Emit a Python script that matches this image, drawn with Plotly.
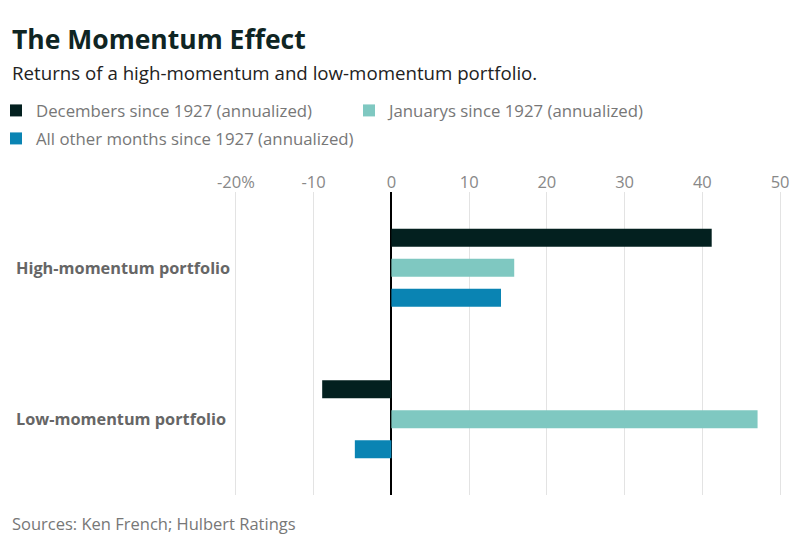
import plotly.graph_objects as go

categories = ["High-momentum portfolio", "Low-momentum portfolio"]
series_names = [
    "Decembers since 1927 (annualized)",
    "Januarys since 1927 (annualized)",
    "All other months since 1927 (annualized)",
]
december = [41.2, -8.9]
january = [15.8, 47.1]
other_months = [14.1, -4.7]
tick_vals = [-20, -10, 0, 10, 20, 30, 40, 50]
tick_text = ["-20%", "-10", "0", "10", "20", "30", "40", "50"]
colors = ["#03201f", "#7fc8c1", "#0a84b3"]
legend_ids = ["legend", "legend2", "legend3"]

W_FIG, H_FIG = 800, 543
L, R, T, B = 232, 16, 192, 48
PW = W_FIG - L - R
PH = H_FIG - T - B

def px_x(px):
    return (px - L) / PW

def px_y(py):
    return (H_FIG - B - py) / PH

FONT = "Open Sans"

fig = go.Figure()
for i, (name, vals, col) in enumerate(zip(series_names, [december, january, other_months], colors)):
    fig.add_trace(go.Bar(
        y=categories, x=vals, name=name, orientation="h",
        marker=dict(color=col, line=dict(width=0)),
        legend=legend_ids[i],
        hoverinfo="x+name",
    ))

annotations = [
    dict(text="<b>The Momentum Effect</b>", x=px_x(10), y=px_y(39), xref="paper", yref="paper",
         xanchor="left", yanchor="middle", showarrow=False,
         font=dict(family=FONT, size=26.5, color="#0f2523")),
    dict(text="Returns of a high-momentum and low-momentum portfolio.", x=px_x(10), y=px_y(72),
         xref="paper", yref="paper", xanchor="left", yanchor="middle", showarrow=False,
         font=dict(family=FONT, size=18.7, color="#222222")),
    dict(text="Sources: Ken French; Hulbert Ratings", x=px_x(10), y=px_y(523),
         xref="paper", yref="paper", xanchor="left", yanchor="middle", showarrow=False,
         font=dict(family=FONT, size=16.5, color="#777777")),
]
for cat in categories:
    annotations.append(dict(
        text="<b>" + cat + "</b>", x=px_x(14), y=cat, xref="paper", yref="y",
        xanchor="left", yanchor="middle", showarrow=False,
        font=dict(family=FONT, size=16.3, color="#666666")))

leg_font = dict(family=FONT, size=16.8, color="#777777")
leg_common = dict(orientation="v", xanchor="left", yanchor="top", xref="paper", yref="paper",
                  font=leg_font, itemclick=False, itemdoubleclick=False)
fig.update_layout(
    width=W_FIG, height=H_FIG,
    margin=dict(l=L, r=R, t=T, b=B, autoexpand=False),
    paper_bgcolor="white", plot_bgcolor="white",
    barmode="group", bargap=0.406, bargroupgap=0.4,
    showlegend=True,
    legend=dict(x=px_x(-4), y=px_y(93), **leg_common),
    legend2=dict(x=px_x(349), y=px_y(93), **leg_common),
    legend3=dict(x=px_x(-4), y=px_y(121), **leg_common),
    xaxis=dict(range=[-20.5, 50.5], side="top", tickvals=tick_vals, ticktext=tick_text,
               showgrid=True, gridcolor="#e3e3e3", gridwidth=1,
               zeroline=True, zerolinecolor="#000000", zerolinewidth=1.5,
               showline=False, ticks="", fixedrange=True,
               tickfont=dict(family=FONT, size=16.5, color="#888888")),
    yaxis=dict(range=[1.5, -0.5], showticklabels=False, showgrid=False, zeroline=False,
               showline=False, ticks="", fixedrange=True),
    annotations=annotations,
)

fig.write_html("out.html")
